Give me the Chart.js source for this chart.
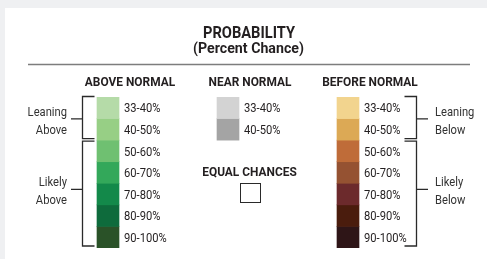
<!DOCTYPE html>
<html>
<head>
<meta charset="utf-8">
<script src="https://cdn.jsdelivr.net/npm/chart.js@4/dist/chart.umd.min.js"></script>
<style>
  html, body { margin: 0; padding: 0; background: #eff0f2; }
  canvas { display: block; }
</style>
</head>
<body>
<canvas id="c" width="487" height="259"></canvas>
<script>
// ---- data ----
const title = 'PROBABILITY';
const subtitle = '(Percent Chance)';
const categories = ['ABOVE NORMAL', 'NEAR NORMAL', 'BEFORE NORMAL'];
const rangeLabels = ['33-40%', '40-50%', '50-60%', '60-70%', '70-80%', '80-90%', '90-100%'];
const nearLevels = 2; // near normal only has the first two ranges
const aboveColors = ['#b5dba8', '#97cf85', '#6fc071', '#33a85a', '#13894a', '#0e6b3c', '#2a5228'];
const nearColors = ['#d3d3d3', '#a4a4a4'];
const belowColors = ['#f2d48e', '#dca955', '#bf6c39', '#955232', '#6c2a2c', '#4a1c0d', '#2e1517'];
const equalChancesLabel = 'EQUAL CHANCES';
const leftGroups = [
  { lines: ['Leaning', 'Above'], from: 0, to: 2, mid: 1.0 },
  { lines: ['Likely', 'Above'], from: 2, to: 7, mid: 4.27 }
];
const rightGroups = [
  { lines: ['Leaning', 'Below'], from: 0, to: 2, mid: 1.0 },
  { lines: ['Likely', 'Below'], from: 2, to: 7, mid: 4.27 }
];

// ---- datasets: one per probability range, floating bars [level, level+1] ----
const datasets = rangeLabels.map((lab, i) => ({
  label: lab,
  data: [[i, i + 1], i < nearLevels ? [i, i + 1] : null, [i, i + 1]],
  backgroundColor: [aboveColors[i], nearColors[i] || 'rgba(0,0,0,0)', belowColors[i]],
  borderWidth: 0,
  grouped: false,
  barThickness: 22
}));

const FONT = 'Roboto, "Liberation Sans", sans-serif';
const TXT = '#231f20';

const decor = {
  id: 'decor',
  beforeDraw(chart) {
    const ctx = chart.ctx;
    ctx.save();
    ctx.fillStyle = '#eff0f2';
    ctx.fillRect(0, 0, chart.width, chart.height);
    ctx.fillStyle = '#ffffff';
    ctx.fillRect(5, 8, chart.width - 5, chart.height - 8);
    ctx.restore();
  },
  afterDraw(chart) {
    const ctx = chart.ctx;
    const xs = chart.scales.x, ys = chart.scales.y;
    const cx = i => xs.getPixelForValue(i);
    const py = v => ys.getPixelForValue(v);
    ctx.save();
    ctx.textBaseline = 'alphabetic';

    // condensed rendering factors (reference face is a condensed grotesque)
    ctx.font = 'bold 16px ' + FONT;
    const kBold = 92 / ctx.measureText('PROBABILITY').width;
    ctx.font = '13px ' + FONT;
    const kReg = 42.7 / ctx.measureText('90-100%').width;

    const txt = (s, x, y, font, align, k, color) => {
      ctx.save();
      ctx.font = font;
      ctx.fillStyle = color || TXT;
      ctx.textAlign = align;
      ctx.translate(x, y);
      ctx.scale(k, 1);
      ctx.fillText(s, 0, 0);
      ctx.restore();
    };

    // title
    txt(title, 249, 37.5, 'bold 16px ' + FONT, 'center', kBold);
    txt(subtitle, 248.5, 53, 'bold 15.5px ' + FONT, 'center', kBold);

    // rule
    ctx.strokeStyle = '#7d7d7d';
    ctx.lineWidth = 1.4;
    ctx.beginPath();
    ctx.moveTo(28, 64.5);
    ctx.lineTo(470, 64.5);
    ctx.stroke();

    // column headers
    categories.forEach((c, i) => {
      txt(c, cx(i) + 22, 86, 'bold 13px ' + FONT, 'center', kBold);
    });

    // range labels
    categories.forEach((c, ci) => {
      const n = ci === 1 ? nearLevels : rangeLabels.length;
      for (let j = 0; j < n; j++) {
        const mid = (py(j) + py(j + 1)) / 2;
        txt(rangeLabels[j], cx(ci) + 16, mid + 4.7, '13px ' + FONT, 'left', kReg);
      }
    });

    // equal chances
    const ecx = cx(1) + 21.5;
    txt(equalChancesLabel, ecx, py(4) - 7.3, 'bold 13px ' + FONT, 'center', kBold);
    ctx.strokeStyle = '#2a2a2a';
    ctx.lineWidth = 1;
    ctx.strokeRect(Math.round(ecx - 10) + 0.5, Math.round(py(4)) + 0.5, 20, 19);

    // brackets
    ctx.strokeStyle = '#2a2a2a';
    ctx.lineWidth = 1.3;
    const drawGroup = (g, vx, tickIn, tickOut, textX, align) => {
      const top = g.from === 0 ? py(g.from) - 0.5 : py(g.from) + 1;
      const bot = g.to === 7 ? py(g.to) - 2 : py(g.to) - 1.5;
      const my = py(g.mid) + 0.3;
      ctx.beginPath();
      ctx.moveTo(tickIn, top); ctx.lineTo(vx, top); ctx.lineTo(vx, bot); ctx.lineTo(tickIn, bot);
      ctx.moveTo(vx, my); ctx.lineTo(tickOut, my);
      ctx.stroke();
      txt(g.lines[0], textX, my - 3.2, '13px ' + FONT, align, kReg, '#333333');
      txt(g.lines[1], textX, my + 14.8, '13px ' + FONT, align, kReg, '#333333');
    };
    const lvx = Math.round(cx(0) - 26.5) + 0.5;
    leftGroups.forEach(g => drawGroup(g, lvx, lvx + 12, lvx - 11.5, lvx - 15.5, 'right'));
    const rvx = Math.round(cx(2) + 67.5) + 0.5;
    rightGroups.forEach(g => drawGroup(g, rvx, rvx - 12, rvx + 11.5, rvx + 18.5, 'left'));

    ctx.restore();
  }
};

new Chart(document.getElementById('c'), {
  type: 'bar',
  data: { labels: categories, datasets },
  options: {
    responsive: false,
    animation: false,
    events: [],
    layout: { padding: { left: 48, right: 79, top: 97, bottom: 11 } },
    plugins: { legend: { display: false }, tooltip: { enabled: false }, title: { display: false } },
    scales: {
      x: { type: 'category', display: false, offset: true, grid: { display: false } },
      y: { min: 0, max: 7, reverse: true, display: false, grid: { display: false } }
    }
  },
  plugins: [decor]
});
</script>
</body>
</html>
